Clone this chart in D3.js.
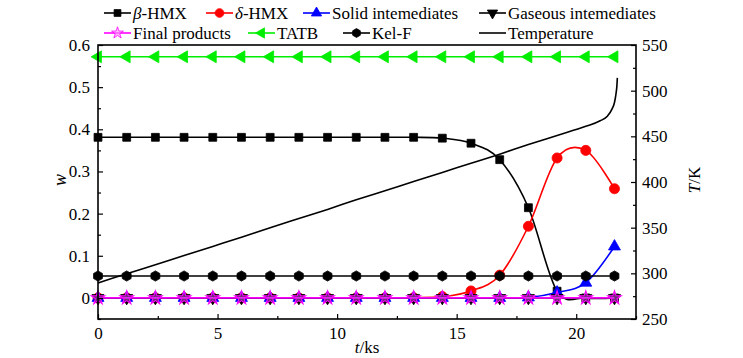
<!DOCTYPE html>
<html>
<head>
<meta charset="utf-8">
<script src="https://cdn.jsdelivr.net/npm/d3@7"></script>
<style>
  html, body { margin: 0; padding: 0; background: #fff; }
  svg { display: block; }
  svg text { font-family: "Liberation Serif", "Times New Roman", serif !important; }
</style>
</head>
<body>
<svg id="chart" width="743" height="358"></svg>
<script>
// ---------------- data ----------------
const times = [0, 1.2, 2.4, 3.6, 4.8, 6, 7.2, 8.4, 9.6, 10.8, 12, 13.2, 14.4, 15.6, 16.8, 18, 19.2, 20.4, 21.6];
const betaHMX  = [0.381, 0.381, 0.381, 0.381, 0.381, 0.381, 0.381, 0.381, 0.381, 0.381, 0.381, 0.381, 0.379, 0.367, 0.328, 0.214, 0.016, 0, 0];
const deltaHMX = [0, 0, 0, 0, 0, 0, 0, 0, 0, 0, 0, 0.0005, 0.003, 0.0166, 0.054, 0.170, 0.332, 0.350, 0.259];
const solidInt = [0, 0, 0, 0, 0, 0, 0, 0, 0, 0, 0, 0, 0, 0, 0, 0.001, 0.0128, 0.036, 0.122];
const gasInt   = [0, 0, 0, 0, 0, 0, 0, 0, 0, 0, 0, 0, 0, 0, 0, 0, 0, 0, 0];
const finalProd= [0, 0, 0, 0, 0, 0, 0, 0, 0, 0, 0, 0, 0, 0, 0, 0, 0, 0, 0];
const tatb     = [0.572, 0.572, 0.572, 0.572, 0.572, 0.572, 0.572, 0.572, 0.572, 0.572, 0.572, 0.572, 0.572, 0.572, 0.572, 0.572, 0.572, 0.572, 0.572];
const kelF     = [0.052, 0.052, 0.052, 0.052, 0.052, 0.052, 0.052, 0.052, 0.052, 0.052, 0.052, 0.052, 0.052, 0.052, 0.052, 0.052, 0.052, 0.052, 0.052];

const tempTime = [0, 1.2, 2.4, 3.6, 4.8, 6, 7.2, 8.4, 9.6, 10.8, 12, 13.2, 14.4, 15.6, 16.8, 18, 19.2, 20.4, 21.0, 21.3, 21.5, 21.6, 21.66, 21.7, 21.72];
const tempK    = [289.5, 299.5, 309.5, 319.5, 329.5, 339.5, 350, 360, 370, 380.5, 390.5, 400.5, 410.5, 420.5, 430.5, 441, 451, 461, 467, 472, 480, 487, 496, 505, 514];

const xTicks = [0, 5, 10, 15, 20];
const yLeftTicks = [0, 0.1, 0.2, 0.3, 0.4, 0.5, 0.6];
const yRightTicks = [250, 300, 350, 400, 450, 500, 550];

const seriesNames = ["\u03b2-HMX", "\u03b4-HMX", "Solid intemediates", "Gaseous intemediates", "Final products", "TATB", "Kel-F", "Temperature"];

// ---------------- setup ----------------
const svg = d3.select("#chart");
const L = 98, R = 636, T = 45, B = 319;
const x = d3.scaleLinear().domain([0, 22.5]).range([L, R]);
const yL = d3.scaleLinear().domain([-0.05, 0.6]).range([B, T]);
const yR = d3.scaleLinear().domain([250, 550]).range([B, T]);

const FS = 17;

// symbols
const hexagon = {
  draw(ctx, size) {
    const r = Math.sqrt(size / 2.598);
    for (let i = 0; i < 6; i++) {
      const a = Math.PI / 6 + i * Math.PI / 3;
      const px = r * Math.cos(a), py = r * Math.sin(a);
      if (i === 0) ctx.moveTo(px, py); else ctx.lineTo(px, py);
    }
    ctx.closePath();
  }
};
const sym = {
  square: { type: d3.symbolSquare, size: 62, rot: 0 },
  circle: { type: d3.symbolCircle, size: 80, rot: 0 },
  up: { type: d3.symbolTriangle, size: 62, rot: 0 },
  down: { type: d3.symbolTriangle, size: 62, rot: 180 },
  star: { type: d3.symbolStar, size: 58, rot: 0 },
  left: { type: d3.symbolTriangle, size: 62, rot: -90 },
  hex: { type: hexagon, size: 68, rot: 0 }
};

const series = [
  { name: seriesNames[0], vals: betaHMX, color: "#000000", sym: "square", fill: "#000000" },
  { name: seriesNames[1], vals: deltaHMX, color: "#ff0000", sym: "circle", fill: "#ff0000" },
  { name: seriesNames[2], vals: solidInt, color: "#0000ff", sym: "up", fill: "#0000ff" },
  { name: seriesNames[3], vals: gasInt, color: "#000000", sym: "down", fill: "#000000" },
  { name: seriesNames[4], vals: finalProd, color: "#ff00ff", sym: "star", fill: "rgba(200,80,220,0.55)" },
  { name: seriesNames[5], vals: tatb, color: "#00ee00", sym: "left", fill: "#00ee00" },
  { name: seriesNames[6], vals: kelF, color: "#000000", sym: "hex", fill: "#000000" }
];

function symPath(k, scale) {
  const s = sym[k];
  return d3.symbol().type(s.type).size(s.size * (scale || 1))();
}

const plot = svg.append("g");
const lineGen = d3.line().x((d, i) => x(times[i])).y(d => yL(d)).curve(d3.curveCardinal.tension(0));

series.forEach(s => {
  const g = plot.append("g");
  g.append("path").datum(s.vals).attr("d", lineGen)
    .attr("fill", "none").attr("stroke", s.color).attr("stroke-width", 1.6);
  g.selectAll("path.m").data(s.vals).enter().append("path").attr("class", "m")
    .attr("d", symPath(s.sym))
    .attr("transform", (d, i) => `translate(${x(times[i])},${yL(d)}) rotate(${sym[s.sym].rot})`)
    .attr("fill", s.fill).attr("stroke", s.color).attr("stroke-width", s.sym === "star" ? 1.1 : 0.8);
});

// temperature line
const tData = tempTime.map((t, i) => [t, tempK[i]]);
plot.append("path").datum(tData)
  .attr("d", d3.line().x(d => x(d[0])).y(d => yR(d[1])).curve(d3.curveMonotoneX))
  .attr("fill", "none").attr("stroke", "#000").attr("stroke-width", 1.6);

// ---------------- axes ----------------
svg.append("rect").attr("x", L).attr("y", T).attr("width", R - L).attr("height", B - T)
  .attr("fill", "none").attr("stroke", "#000").attr("stroke-width", 1.6);

const xAxis = d3.axisBottom(x).tickValues(xTicks).tickSize(-5).tickPadding(8).tickFormat(d3.format("d"));
svg.append("g").attr("transform", `translate(0,${B})`).call(xAxis);
const xMinor = d3.axisBottom(x).tickValues([2.5, 7.5, 12.5, 17.5, 22.5]).tickSize(-3).tickFormat("");
svg.append("g").attr("transform", `translate(0,${B})`).call(xMinor);

const yAxisL = d3.axisLeft(yL).tickValues(yLeftTicks).tickSize(-5).tickPadding(8).tickFormat(d => d === 0 ? "0" : d3.format(".1f")(d));
svg.append("g").attr("transform", `translate(${L},0)`).call(yAxisL);
const yMinorL = d3.axisLeft(yL).tickValues([-0.05, 0.05, 0.15, 0.25, 0.35, 0.45, 0.55]).tickSize(-3).tickFormat("");
svg.append("g").attr("transform", `translate(${L},0)`).call(yMinorL);

const yAxisR = d3.axisRight(yR).tickValues(yRightTicks).tickSize(-5).tickPadding(6).tickFormat(d3.format("d"));
svg.append("g").attr("transform", `translate(${R},0)`).call(yAxisR);
const yMinorR = d3.axisRight(yR).tickValues([275, 325, 375, 425, 475, 525]).tickSize(-3).tickFormat("");
svg.append("g").attr("transform", `translate(${R},0)`).call(yMinorR);

svg.selectAll(".domain").remove();
svg.selectAll("g").attr("font-family", null);
svg.selectAll(".tick line").attr("stroke", "#000").attr("stroke-width", 1.2);
svg.selectAll(".tick text").style("font-family", "'Liberation Serif', serif").attr("font-size", FS).attr("fill", "#000");

// axis titles
svg.append("text").attr("transform", "translate(66,180) rotate(-90)").attr("text-anchor", "middle")
  .attr("font-size", FS + 1).attr("font-style", "italic").text("w");
const tk = svg.append("text").attr("transform", "translate(700,180) rotate(-90)").attr("text-anchor", "middle")
  .attr("font-size", FS);
tk.append("tspan").attr("font-style", "italic").text("T");
tk.append("tspan").text("/K");
const tx = svg.append("text").attr("x", 367).attr("y", 353).attr("text-anchor", "middle").attr("font-size", FS);
tx.append("tspan").attr("font-style", "italic").text("t");
tx.append("tspan").text("/ks");

// ---------------- legend ----------------
const legendItems = [
  { s: 0, x: 104, y: 13 }, { s: 1, x: 206, y: 13 }, { s: 2, x: 303, y: 13 }, { s: 3, x: 479, y: 13 },
  { s: 4, x: 104, y: 33 }, { s: 5, x: 248, y: 33 }, { s: 6, x: 343, y: 33 }, { s: 7, x: 479, y: 33 }
];
const lg = svg.append("g");
legendItems.forEach(it => {
  const g = lg.append("g").attr("transform", `translate(${it.x},${it.y})`);
  const color = it.s < 7 ? series[it.s].color : "#000";
  g.append("line").attr("x1", 0).attr("x2", 27).attr("y1", 0).attr("y2", 0)
    .attr("stroke", color).attr("stroke-width", 1.6);
  if (it.s < 7) {
    const s = series[it.s];
    g.append("path").attr("d", symPath(s.sym, 0.75))
      .attr("transform", `translate(13.5,0) rotate(${sym[s.sym].rot})`)
      .attr("fill", s.sym === "star" ? "rgba(255,150,255,0.6)" : s.fill).attr("stroke", s.color).attr("stroke-width", 0.8);
  }
  const t = g.append("text").attr("x", 29).attr("y", 5.5).attr("font-size", FS);
  const nm = seriesNames[it.s];
  if (it.s === 0 || it.s === 1) {
    t.append("tspan").attr("font-style", "italic").text(nm[0]);
    t.append("tspan").text(nm.slice(1));
  } else {
    t.text(nm);
  }
});
</script>
</body>
</html>
